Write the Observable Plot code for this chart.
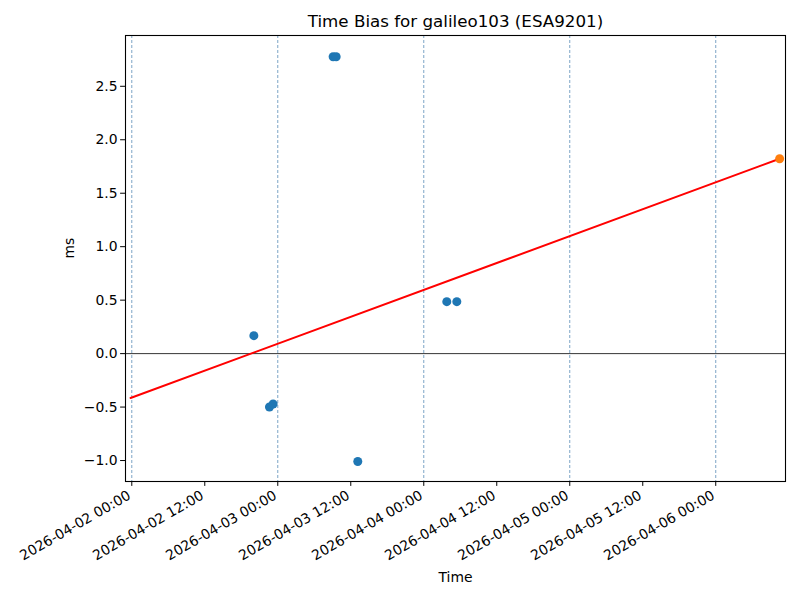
<!DOCTYPE html>
<html>
<head>
<meta charset="utf-8">
<script src="https://cdn.jsdelivr.net/npm/d3@7"></script>
<script src="https://cdn.jsdelivr.net/npm/@observablehq/plot@0.6"></script>
<style>
  html, body { margin: 0; padding: 0; background: #fff; }
  svg { font-family: "DejaVu Sans", sans-serif; }
</style>
</head>
<body>
<div id="chart"></div>
<script>
// Observations (UTC)
const obsTimes = [
  "2026-04-02T20:04Z", "2026-04-02T22:38Z", "2026-04-02T23:14Z",
  "2026-04-03T09:06Z", "2026-04-03T09:36Z", "2026-04-03T13:09Z",
  "2026-04-04T03:47Z", "2026-04-04T05:26Z"
];
const obsValues = [0.168, -0.499, -0.471, 2.776, 2.776, -1.009, 0.486, 0.486];

// Predicted point
const predTimes = ["2026-04-06T10:30Z"];
const predValues = [1.822];

// Fit line
const fitTimes = ["2026-04-01T23:48Z", "2026-04-06T10:30Z"];
const fitValues = [-0.415, 1.822];

// Axis
const xDomain = ["2026-04-01T22:58Z", "2026-04-06T11:28Z"];
const yDomain = [-1.196, 2.975];
const xTicks = [
  "2026-04-02T00:00Z", "2026-04-02T12:00Z", "2026-04-03T00:00Z", "2026-04-03T12:00Z",
  "2026-04-04T00:00Z", "2026-04-04T12:00Z", "2026-04-05T00:00Z", "2026-04-05T12:00Z",
  "2026-04-06T00:00Z"
];
const gridDays = ["2026-04-02T00:00Z", "2026-04-03T00:00Z", "2026-04-04T00:00Z", "2026-04-05T00:00Z", "2026-04-06T00:00Z"];
const yTicks = [-1.0, -0.5, 0.0, 0.5, 1.0, 1.5, 2.0, 2.5];

const obs = obsTimes.map((t, i) => ({t: new Date(t), v: obsValues[i]}));
const pred = predTimes.map((t, i) => ({t: new Date(t), v: predValues[i]}));
const fit = fitTimes.map((t, i) => ({t: new Date(t), v: fitValues[i]}));
const fmt = d3.utcFormat("%Y-%m-%d %H:%M");

const chart = Plot.plot({
  width: 800,
  height: 600,
  marginLeft: 125,
  marginRight: 15,
  marginTop: 35,
  marginBottom: 119,
  style: {fontFamily: "DejaVu Sans, sans-serif", fontSize: "13.9px", color: "black", background: "white"},
  x: {type: "utc", domain: xDomain.map(d => new Date(d))},
  y: {domain: yDomain},
  marks: [
    Plot.ruleX(gridDays.map(d => new Date(d)), {stroke: "#5b8db8", strokeWidth: 0.8, strokeDasharray: "3,2"}),
    Plot.ruleY([0], {stroke: "black", strokeWidth: 0.8}),
    Plot.line(fit, {x: "t", y: "v", stroke: "red", strokeWidth: 2}),
    Plot.dot(obs, {x: "t", y: "v", r: 4.5, fill: "#1f77b4"}),
    Plot.dot(pred, {x: "t", y: "v", r: 4.5, fill: "#ff7f0e"}),
    Plot.frame({stroke: "black", strokeWidth: 1.1}),
    Plot.axisY({ticks: yTicks, tickFormat: d3.format(".1f"), tickSize: 4.9, tickPadding: 3, label: null, fontSize: "13.9px"}),
    Plot.axisX({ticks: xTicks.map(d => new Date(d)), tickFormat: "", tickSize: 4.9, label: null}),
    Plot.text(xTicks.map(d => new Date(d)), {
      x: d => d, frameAnchor: "bottom", dx: -5, dy: 8, text: d => fmt(d),
      rotate: -30, textAnchor: "end", lineAnchor: "top", fontSize: 13.9, fill: "black"
    }),
    Plot.text(["Time Bias for galileo103 (ESA9201)"], {frameAnchor: "top", dy: -14, fontSize: 16.7, fill: "black", lineAnchor: "middle"}),
    Plot.text(["Time"], {frameAnchor: "bottom", dy: 96, fontSize: 13.9, fill: "black", lineAnchor: "middle"}),
    Plot.text(["ms"], {frameAnchor: "left", dx: -56, rotate: -90, fontSize: 13.9, fill: "black"})
  ]
});
document.getElementById("chart").appendChild(chart);
</script>
</body>
</html>
